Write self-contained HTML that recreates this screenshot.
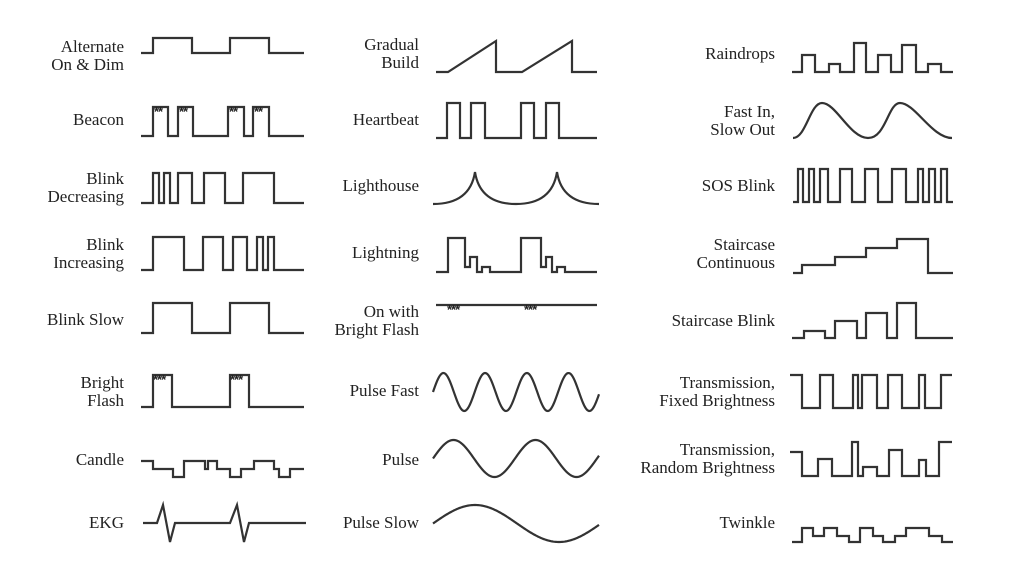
<!DOCTYPE html>
<html><head><meta charset="utf-8"><style>
html,body{margin:0;padding:0;background:#fff;}
svg{display:block;}
text{font-family:"Liberation Serif",serif;font-size:17px;fill:#222;}
.l text{text-anchor:end;}
.w{fill:none;stroke:#333;stroke-width:2.2;stroke-linejoin:miter;}
.a{font-size:13px;font-family:"Liberation Sans",sans-serif;fill:#222;font-weight:bold;letter-spacing:-1px;}
</style></head><body>
<svg id="s" width="1024" height="575" viewBox="0 0 1024 575" xmlns="http://www.w3.org/2000/svg">
<g class="l">
<text x="124" y="52">Alternate</text><text x="124" y="70">On &amp; Dim</text>
<text x="124" y="125">Beacon</text>
<text x="124" y="184">Blink</text><text x="124" y="202">Decreasing</text>
<text x="124" y="250">Blink</text><text x="124" y="268">Increasing</text>
<text x="124" y="325">Blink Slow</text>
<text x="124" y="388">Bright</text><text x="124" y="406">Flash</text>
<text x="124" y="465">Candle</text>
<text x="124" y="528">EKG</text>

<text x="419" y="50">Gradual</text><text x="419" y="68">Build</text>
<text x="419" y="125">Heartbeat</text>
<text x="419" y="191">Lighthouse</text>
<text x="419" y="258">Lightning</text>
<text x="419" y="317">On with</text><text x="419" y="335">Bright Flash</text>
<text x="419" y="396">Pulse Fast</text>
<text x="419" y="465">Pulse</text>
<text x="419" y="528">Pulse Slow</text>

<text x="775" y="59">Raindrops</text>
<text x="775" y="117">Fast In,</text><text x="775" y="135">Slow Out</text>
<text x="775" y="191">SOS Blink</text>
<text x="775" y="250">Staircase</text><text x="775" y="268">Continuous</text>
<text x="775" y="326">Staircase Blink</text>
<text x="775" y="388">Transmission,</text><text x="775" y="406">Fixed Brightness</text>
<text x="775" y="455">Transmission,</text><text x="775" y="473">Random Brightness</text>
<text x="775" y="528">Twinkle</text>
</g>

<!-- Column 1 -->
<polyline class="w" points="141,53 153,53 153,38 192,38 192,53 230,53 230,38 269,38 269,53 304,53"/>
<polyline class="w" points="141,136 153,136 153,107 168,107 168,136 178,136 178,107 193,107 193,136 228,136 228,107 244,107 244,136 253,136 253,107 269,107 269,136 304,136"/>
<text class="a" x="154" y="116">**</text><text class="a" x="179" y="116">**</text><text class="a" x="229" y="116">**</text><text class="a" x="254" y="116">**</text>
<polyline class="w" points="141,203 153,203 153,173 159,173 159,203 164,203 164,173 170,173 170,203 178,203 178,173 192,173 192,203 204,203 204,173 225,173 225,203 243,203 243,173 274,173 274,203 304,203"/>
<polyline class="w" points="141,270 153,270 153,237 184,237 184,270 203,270 203,237 223,237 223,270 233,270 233,237 247,237 247,270 257,270 257,237 263,237 263,270 268,270 268,237 274,237 274,270 304,270"/>
<polyline class="w" points="141,333 153,333 153,303 192,303 192,333 230,333 230,303 269,303 269,333 304,333"/>
<polyline class="w" points="141,407 153,407 153,375 172,375 172,407 230,407 230,375 249,375 249,407 304,407"/>
<text class="a" x="153" y="384">***</text><text class="a" x="230" y="384">***</text>
<polyline class="w" points="141,461 153,461 153,469 173,469 173,477 184,477 184,461 205,461 205,469 208,469 208,461 217,461 217,469 230,469 230,477 241,477 241,469 254,469 254,461 274,461 274,469 279,469 279,477 290,477 290,469 304,469"/>
<polyline class="w" points="143,523 157,523 163,505 170,542 175,523 230,523 237,505 244,542 249,523 306,523"/>

<!-- Column 2 -->
<polyline class="w" points="436,72 448,72 496,41 496,72 522,72 572,41 572,72 597,72"/>
<polyline class="w" points="436,138 447,138 447,103 460,103 460,138 471,138 471,103 485,103 485,138 521,138 521,103 534,103 534,138 546,138 546,103 559,103 559,138 597,138"/>
<path class="w" d="M433,204 Q470,204 475,172 Q480,204 516,204 Q552,204 557,172 Q562,204 599,204"/>
<polyline class="w" points="436,272 448,272 448,238 465,238 465,267 470,267 470,257 477,257 477,272 482,272 482,267 490,267 490,272 521,272 521,238 541,238 541,267 546,267 546,257 552,257 552,272 557,272 557,267 565,267 565,272 597,272"/>
<line class="w" x1="436" y1="305" x2="597" y2="305"/>
<text class="a" x="447" y="314">***</text><text class="a" x="524" y="314">***</text>
<path id="p1" class="w" d=""/><path id="p2" class="w" d=""/><path id="p3" class="w" d=""/>

<!-- Column 3 -->
<polyline class="w" points="792,72 802,72 802,55 815,55 815,72 829,72 829,64 840,64 840,72 854,72 854,43 866,43 866,72 878,72 878,55 891,55 891,72 902,72 902,45 916,45 916,72 928,72 928,64 941,64 941,72 953,72"/>
<path class="w" d="M793,138 C806,138 810,103 822,103 C836,103 850,138 868,138 C886,138 888,103 900,103 C915,103 932,138 952,138"/>
<polyline class="w" points="793,202 798,202 798,169 803,169 803,202 809,202 809,169 814,169 814,202 820,202 820,169 828,169 828,202 840,202 840,169 852,169 852,202 865,202 865,169 878,169 878,202 892,202 892,169 906,169 906,202 918,202 918,169 923,169 923,202 929,202 929,169 935,169 935,202 941,202 941,169 947,169 947,202 953,202"/>
<polyline class="w" points="793,273 802,273 802,265 835,265 835,257 866,257 866,248 897,248 897,239 928,239 928,273 953,273"/>
<polyline class="w" points="792,338 804,338 804,331 825,331 825,338 835,338 835,321 857,321 857,338 866,338 866,313 887,313 887,338 897,338 897,303 916,303 916,338 953,338"/>
<polyline class="w" points="790,375 802,375 802,408 820,408 820,375 833,375 833,408 853,408 853,375 858,375 858,408 862,408 862,375 877,375 877,408 888,408 888,375 902,375 902,408 919,408 919,375 925,375 925,408 941,408 941,375 952,375"/>
<polyline class="w" points="790,452 802,452 802,476 818,476 818,459 832,459 832,476 852,476 852,442 858,442 858,476 863,476 863,467 877,467 877,476 889,476 889,450 902,450 902,476 919,476 919,460 926,460 926,476 939,476 939,442 952,442"/>
<polyline class="w" points="792,542 802,542 802,528 813,528 813,536 824,536 824,528 837,528 837,536 849,536 849,542 860,542 860,528 873,528 873,536 883,536 883,542 895,542 895,536 906,536 906,528 929,528 929,536 942,536 942,542 953,542"/>
</svg>
<script>
function sine(id,x0,x1,cy,amp,per){var d="";for(var x=x0;x<=x1;x+=1){var y=cy-amp*Math.sin(2*Math.PI*(x-x0)/per);d+=(x==x0?"M":"L")+x+","+y.toFixed(2)+" ";}document.getElementById(id).setAttribute("d",d);}
sine("p1",433,599,392,19,41.7);
sine("p2",433,599,458.5,18.5,82);
sine("p3",433,599,523.5,18.5,168);
</script>
</body></html>
